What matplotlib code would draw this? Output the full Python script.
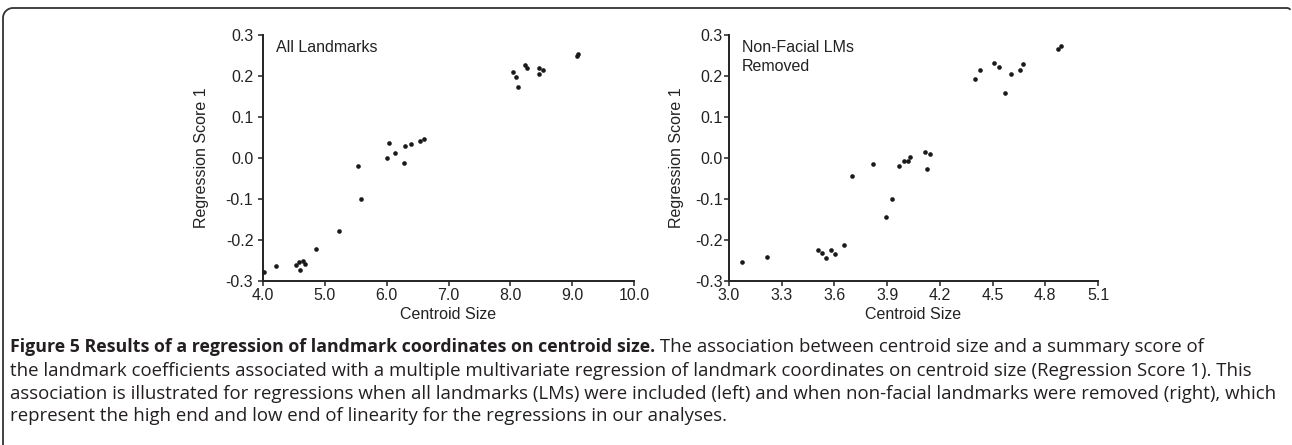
import numpy as np
import matplotlib
matplotlib.use("Agg")
import matplotlib.pyplot as plt
from matplotlib.lines import Line2D
from matplotlib import font_manager

# left panel: all landmarks
all_size = [4.02, 4.21, 4.54, 4.58, 4.60, 4.65, 4.68, 4.86, 5.23, 5.53, 5.59,
            6.01, 6.04, 6.14, 6.28, 6.30, 6.40, 6.54, 6.61,
            8.04, 8.09, 8.13, 8.23, 8.27, 8.46, 8.46, 8.53, 9.08, 9.10]
all_score = [-0.278, -0.263, -0.262, -0.254, -0.272, -0.251, -0.258, -0.222, -0.177, -0.020, -0.100,
             0.000, 0.037, 0.011, -0.011, 0.029, 0.035, 0.041, 0.047,
             0.210, 0.198, 0.172, 0.228, 0.220, 0.220, 0.206, 0.214, 0.248, 0.254]

# right panel: non-facial landmarks removed
face_size = [3.076, 3.216, 3.505, 3.531, 3.552, 3.581, 3.603, 3.653, 3.700, 3.820,
             3.896, 3.930, 3.970, 3.996, 4.017, 4.028, 4.118, 4.125, 4.142,
             4.402, 4.427, 4.506, 4.538, 4.573, 4.605, 4.658, 4.672, 4.874, 4.888]
face_score = [-0.254, -0.241, -0.225, -0.232, -0.244, -0.225, -0.233, -0.211, -0.045, -0.015,
              -0.144, -0.101, -0.020, -0.007, -0.008, 0.003, 0.015, -0.028, 0.010,
              0.193, 0.214, 0.232, 0.222, 0.159, 0.206, 0.215, 0.230, 0.265, 0.274]

left_xticks = [4.0, 5.0, 6.0, 7.0, 8.0, 9.0, 10.0]
right_xticks = [3.0, 3.3, 3.6, 3.9, 4.2, 4.5, 4.8, 5.1]
yticks = [-0.3, -0.2, -0.1, 0.0, 0.1, 0.2, 0.3]

W, H = 1292, 445
fig = plt.figure(figsize=(W / 100, H / 100), dpi=100)
plt.rcParams['font.family'] = ['Liberation Sans', 'DejaVu Sans']


def panel(rect, x, y, xticks, label, ylab_x, ypad):
    ax = fig.add_axes(rect)
    ax.scatter(x, y, s=11, color="#1a1a1a", linewidths=0, zorder=3, clip_on=False)
    ax.set_xlim(xticks[0], xticks[-1])
    ax.set_ylim(-0.3, 0.3)
    ax.set_xticks(xticks)
    ax.set_xticklabels(["%.1f" % t for t in xticks])
    ax.set_yticks(yticks)
    ax.set_yticklabels(["%.1f" % t for t in yticks])
    for s in ["top", "right"]:
        ax.spines[s].set_visible(False)
    for s in ["left", "bottom"]:
        ax.spines[s].set_linewidth(1.4)
        ax.spines[s].set_color("#222222")
    ax.tick_params(axis="both", direction="out", length=3.5, width=1.1,
                   colors="#222222", labelsize=11.5)
    ax.tick_params(axis="x", pad=1.5)
    ax.tick_params(axis="y", pad=ypad)
    ax.set_xlabel("Centroid Size", fontsize=11.5, color="#222222")
    ax.set_ylabel("Regression Score 1", fontsize=11.5, color="#222222")
    ax.xaxis.set_label_coords(0.5, -0.105)
    ax.yaxis.set_label_coords(ylab_x, 0.5)
    ax.text(0.035, 0.95, label, transform=ax.transAxes, fontsize=11.5,
            color="#222222", va="center", ha="left", linespacing=1.35)
    return ax


panel([263 / W, 1 - 281 / H, 371 / W, 246 / H], all_size, all_score,
      left_xticks, "All Landmarks", -0.146, 3.5)
panel([729 / W, 1 - 281 / H, 369 / W, 246 / H], face_size, face_score,
      right_xticks, "Non-Facial LMs\nRemoved", -0.123, 1.0)
fig.axes[1].texts[0].set_y(0.91)

# caption
cap_font = 'Open Sans'
for name in ['Liberation Sans Narrow', 'Open Sans']:
    try:
        font_manager.findfont(name, fallback_to_default=False)
        cap_font = name
        break
    except Exception:
        pass
cap_family = [cap_font, 'DejaVu Sans']
bold = "Figure 5 Results of a regression of landmark coordinates on centroid size."
rest = [" The association between centroid size and a summary score of",
        "the landmark coefficients associated with a multiple multivariate regression of landmark coordinates on centroid size (Regression Score 1). This",
        "association is illustrated for regressions when all landmarks (LMs) were included (left) and when non-facial landmarks were removed (right), which",
        "represent the high end and low end of linearity for the regressions in our analyses."]
line_y = [347, 371, 394, 416]
x0 = 10 / W

# size the caption so the longest line spans about the same width as in the figure
renderer = fig.canvas.get_renderer()
probe = fig.text(0, 0, rest[2], family=cap_family, fontsize=10)
w10 = probe.get_window_extent(renderer).width
probe.remove()
cap_size = 10 * 1265 / w10

t = fig.text(x0, 1 - line_y[0] / H, bold, family=cap_family, fontsize=cap_size * 0.95,
             fontweight="bold", color="#231f20", va="center", ha="left")
bb = t.get_window_extent(renderer)
fig.text(bb.x1 / W, 1 - line_y[0] / H, rest[0], family=cap_family, fontsize=cap_size,
         color="#231f20", va="center", ha="left")
for txt, yy in zip(rest[1:], line_y[1:]):
    fig.text(x0, 1 - yy / H, txt, family=cap_family, fontsize=cap_size,
             color="#231f20", va="center", ha="left")

# frame: rounded top-left bracket
r = 10
ang = np.linspace(np.pi, np.pi / 2, 12)
cx, cy = 3 + r, 8 + r
px = [3] + list(cx + r * np.cos(ang)) + [1287]
py = [445] + list(cy - r * np.sin(ang)) + [8]
ang2 = np.linspace(np.pi / 2, np.pi / 4, 5)
px += list(1287 + 4 * np.cos(ang2))
py += list(12 - 4 * np.sin(ang2))
fig.add_artist(Line2D(np.array(px) / W, 1 - np.array(py) / H, color="#333333",
                      linewidth=1.3, transform=fig.transFigure))

fig.savefig("out.png", dpi=100)
